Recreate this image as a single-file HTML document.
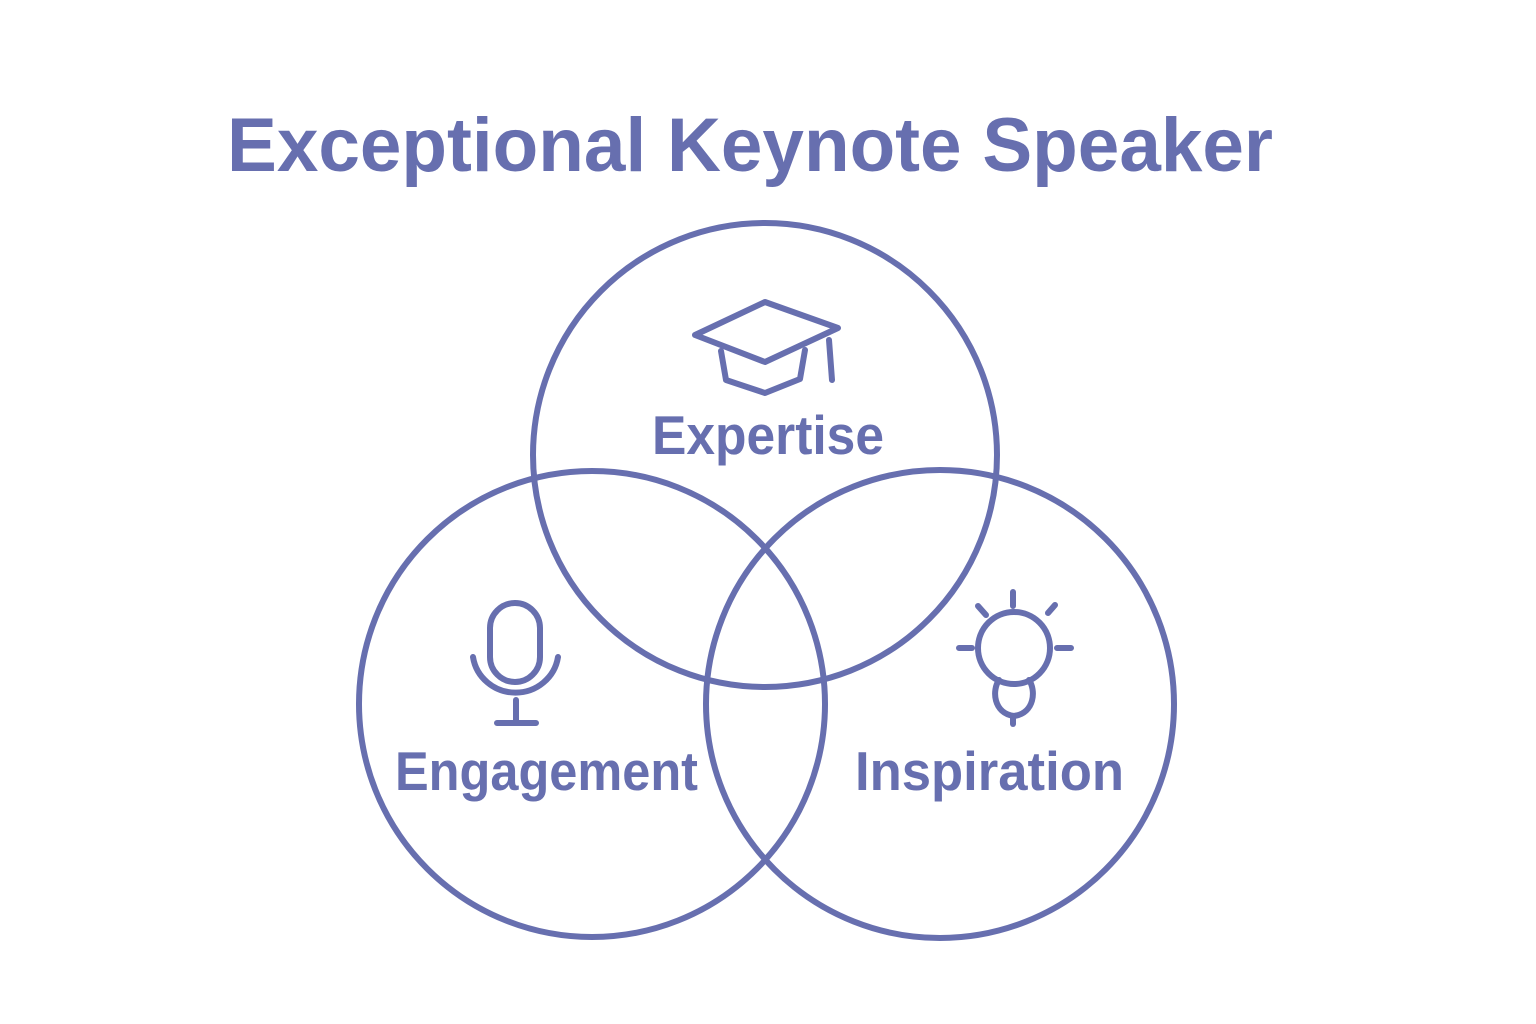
<!DOCTYPE html>
<html><head><meta charset="utf-8"><style>
html,body{margin:0;padding:0;background:#fff;}
svg{display:block}
text{font-family:"Liberation Sans",sans-serif;font-weight:bold;fill:#676faf}
</style></head><body>
<svg width="1536" height="1024" viewBox="0 0 1536 1024" xmlns="http://www.w3.org/2000/svg">
<rect width="1536" height="1024" fill="#fff"/>
<text x="227" y="171" font-size="76" textLength="1046" lengthAdjust="spacingAndGlyphs">Exceptional Keynote Speaker</text>
<g fill="none" stroke="#676faf" stroke-width="6" stroke-linecap="round" stroke-linejoin="round">
<circle cx="765" cy="455" r="232"/>
<circle cx="592" cy="704" r="233"/>
<circle cx="940" cy="704" r="234"/>
<!-- cap -->
<path d="M695 335 L765 302 L838 328 L765 362 Z"/>
<path d="M721 351 L726 380 L765 393 L800 379 L805 350"/>
<path d="M829 340 L832 380"/>
<!-- mic -->
<rect x="490" y="603" width="50" height="79" rx="25"/>
<path d="M473 657 A43 42 0 0 0 558 657"/>
<path d="M516 700 L516 722 M497 723 L536 723"/>
<!-- bulb -->
<circle cx="1014" cy="648" r="36"/>
<path d="M1013 592 L1013 606 M978 606 L986 615 M1055 605 L1048 613 M959 648 L972 648 M1057 648 L1071 648"/>
<path d="M999 680 C992 690 993 713 1014 716 C1035 713 1036 690 1029 680"/>
<path d="M1013 716 L1013 724"/>
</g>
<text x="652" y="454" font-size="55" textLength="232" lengthAdjust="spacingAndGlyphs">Expertise</text>
<text x="395" y="790" font-size="55" textLength="303" lengthAdjust="spacingAndGlyphs">Engagement</text>
<text x="855" y="790" font-size="55" textLength="269" lengthAdjust="spacingAndGlyphs">Inspiration</text>
</svg>
</body></html>
